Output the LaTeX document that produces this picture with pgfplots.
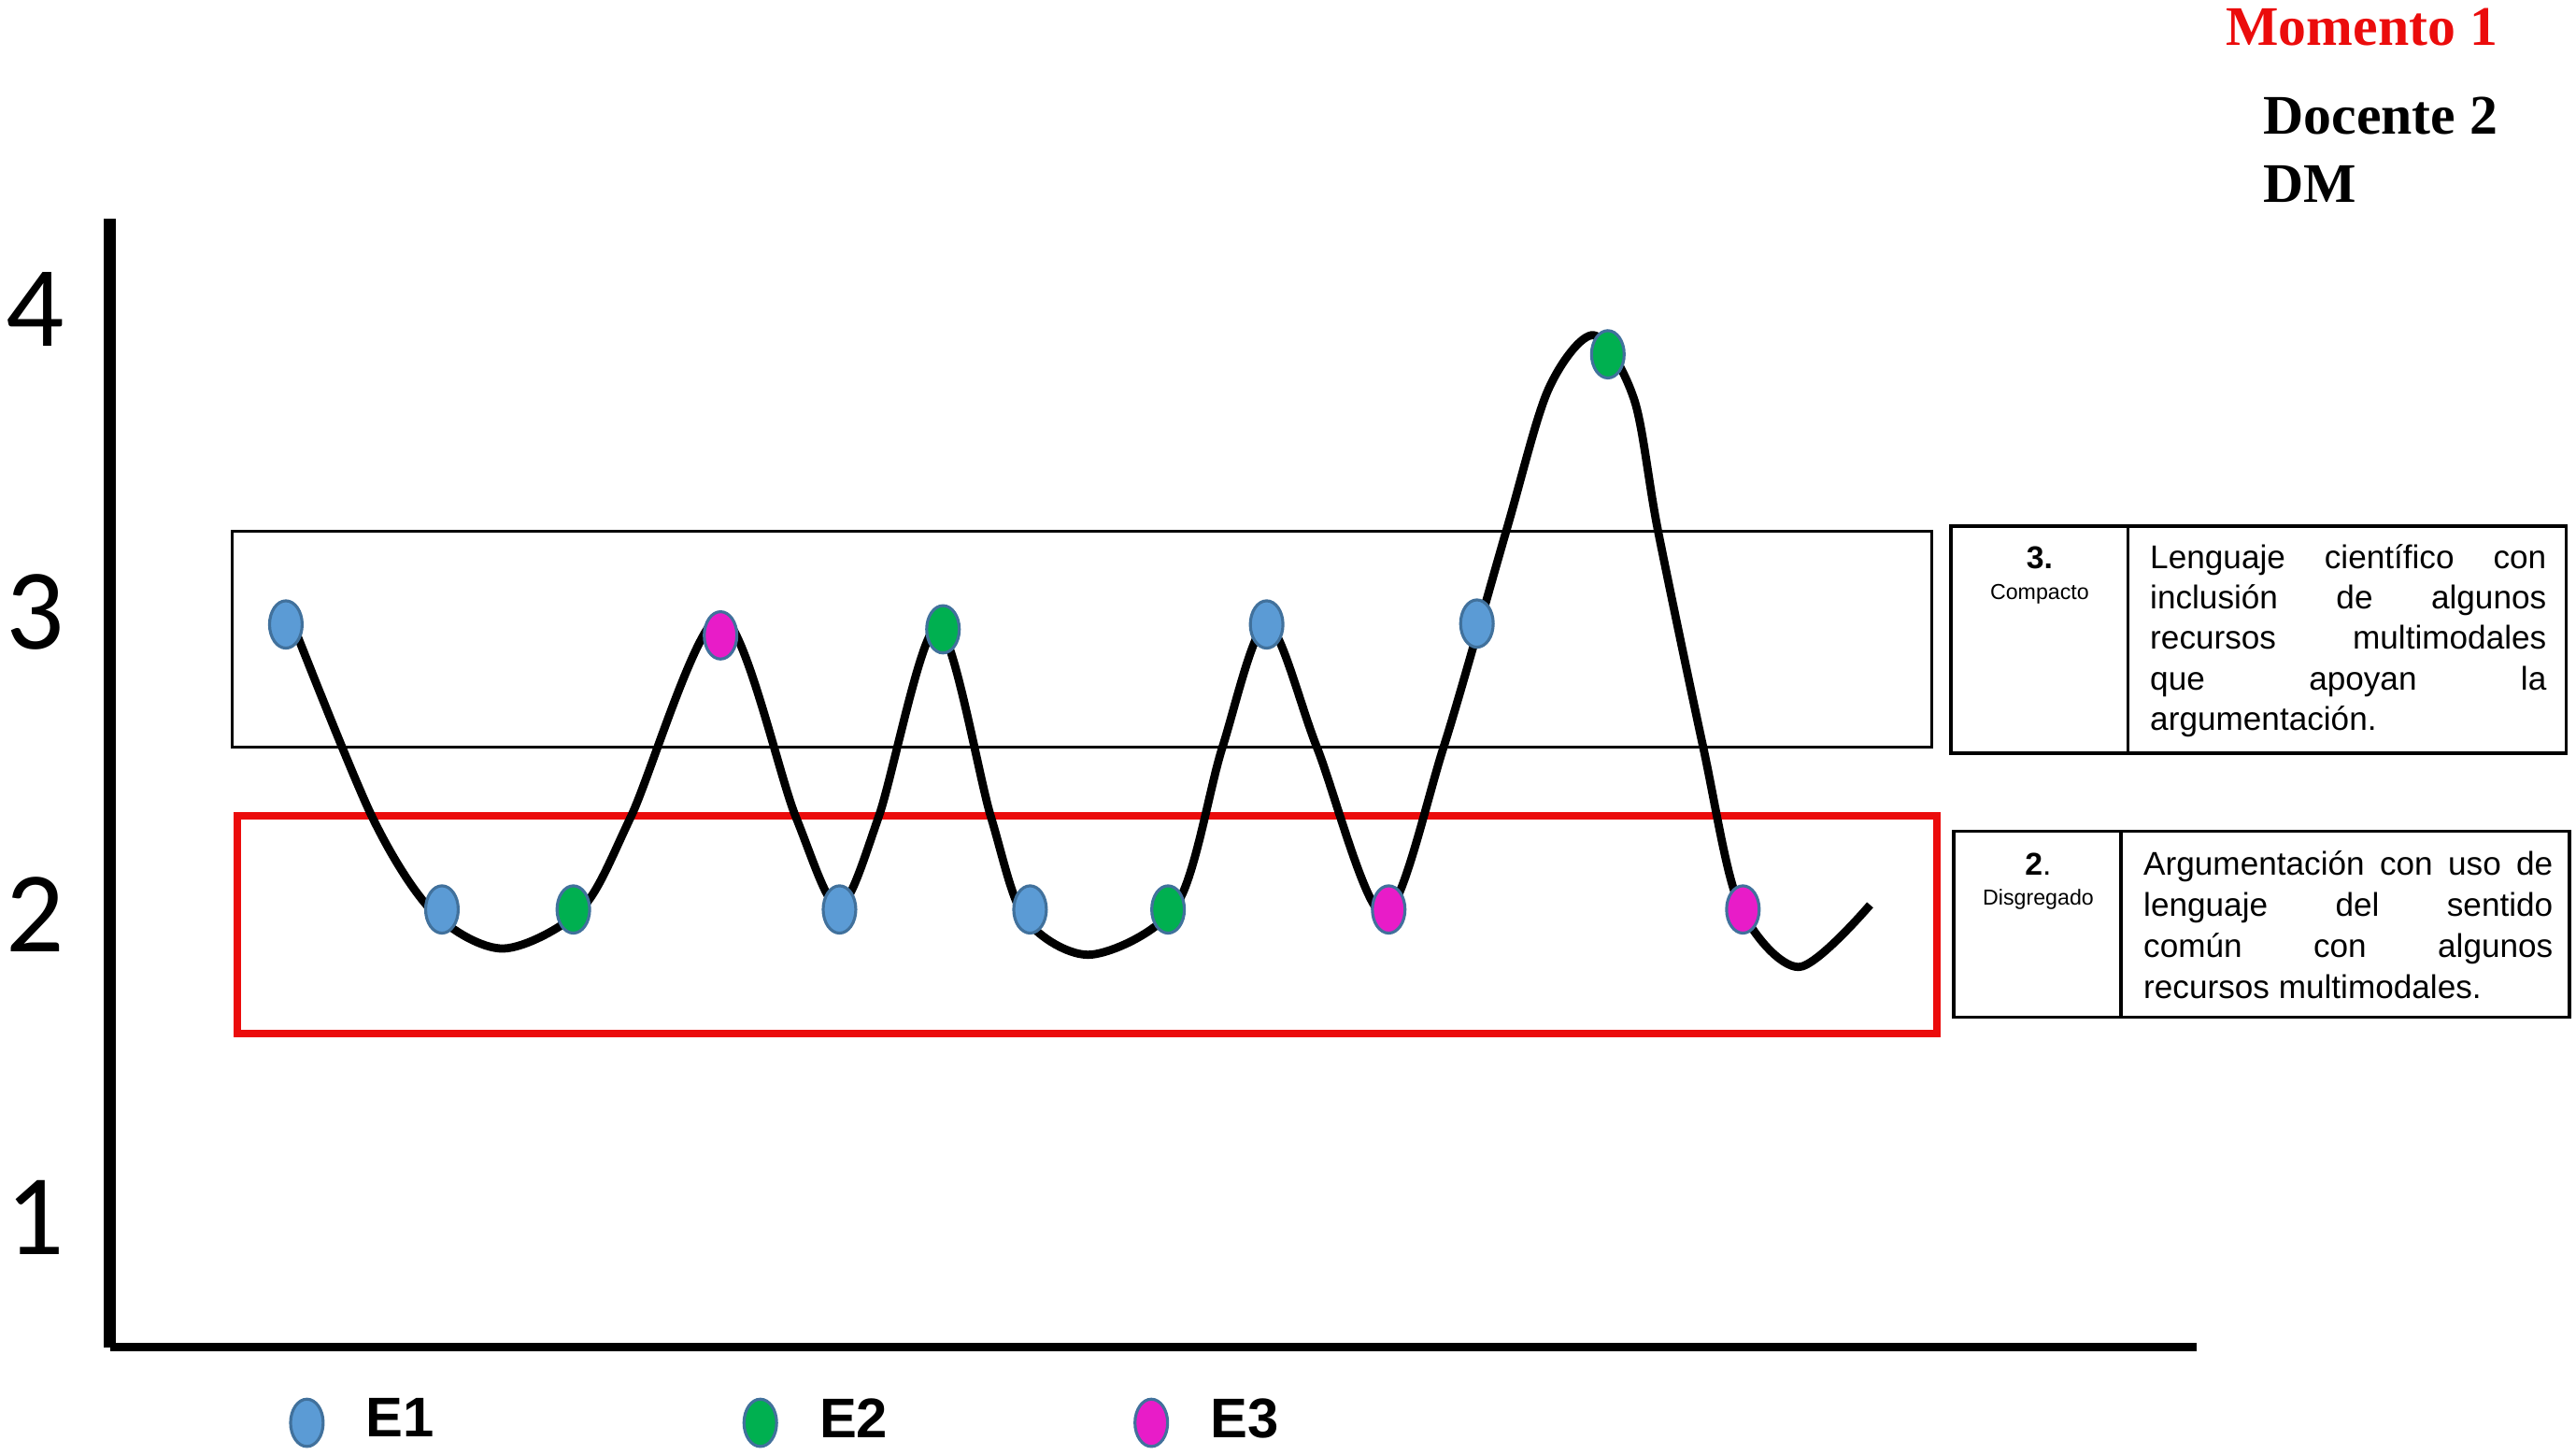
\documentclass[border=0pt]{standalone}
\usepackage{fontspec}
\setmainfont{Liberation Sans}
\newfontfamily\calfont{Carlito}
\newfontfamily\timesfont{Liberation Serif}
\usepackage{pgfplots}
\pgfplotsset{compat=1.18}

\definecolor{eone}{RGB}{91,155,213}
\definecolor{etwo}{RGB}{0,176,80}
\definecolor{ethree}{RGB}{232,28,200}
\definecolor{rim}{RGB}{65,113,156}
\definecolor{boxred}{RGB}{235,12,12}

\begin{document}
\begin{tikzpicture}
\begin{axis}[
    scale only axis,
    width=317.5pt, height=171.75pt,
    xmin=67, xmax=1337, ymin=0.5713, ymax=4.2984,
    axis x line=bottom, axis y line=left,
    axis line style={-},
    x axis line style={line width=1.3pt},
    y axis line style={line width=1.8pt},
    xtick=\empty,
    ytick={1,2,3,4}, yticklabels={1,2,3,4},
    major tick length=0pt,
    yticklabel style={font=\calfont\fontsize{17.5}{18}\selectfont, inner xsep=0pt, xshift=-6.8pt},
    clip=false,
    legend columns=3,
    legend cell align=left,
    legend style={draw=none, fill=none, at={(axis cs:176,0.322)}, anchor=west,
        inner sep=0pt, nodes={inner sep=0pt},
        font=\bfseries\fontsize{8.5}{10}\selectfont,
        /tikz/every odd column/.append style={column sep=6.5pt}},
    legend image code/.code={\path[draw=none,fill=none] (-2.5pt,-3.6pt) rectangle (2.5pt,3.6pt);
        \draw[#1] plot coordinates {(0pt,0pt)};},
    dot/.style={only marks, mark=*, mark size=3.6pt,
        mark options={xscale=0.69, draw=rim, line width=0.45pt, fill=#1}},
]
% bands
\draw[black, line width=0.45pt] (axis cs:141.5,3.2665) rectangle (axis cs:1176,2.5537);
\draw[boxred, line width=1.15pt] (axis cs:144.7,2.3253) rectangle (axis cs:1179,1.6076);

% students
\addplot[dot=eone] coordinates {(174,2.958) (269,2.017) (511,2.017) (627,2.017) (771,2.958) (899,2.961)};
\addlegendentry{\makebox[57.5pt][l]{E1}}
\addplot[dot=etwo] coordinates {(349,2.017) (574,2.942) (711,2.017) (978.7,3.850)};
\addlegendentry{\makebox[48pt][l]{E2}}
\addplot[dot=ethree] coordinates {(438.6,2.922) (845.3,2.017) (1060.9,2.017)};
\addlegendentry{E3}

% trajectory
\addplot[black, line width=1.25pt, smooth, forget plot] coordinates {
(175.7,2.994) (226.4,2.324) (264,2.006) (306.4,1.888) (353.7,2.017)
(384.1,2.324) (438.6,2.983) (484.3,2.324) (510.4,2.027) (534.9,2.324)
(570.5,2.950) (603.1,2.324) (624.2,1.986) (664.5,1.868) (716.7,2.037)
(744,2.551) (771.2,2.958) (801.7,2.551) (842.3,2.001) (878.6,2.551)
(916.9,3.268) (942.4,3.733) (970,3.913) (994.7,3.701) (1009.2,3.268)
(1036.8,2.551) (1058.6,2.033) (1094.8,1.827) (1138.3,2.032)};

% header
\node[anchor=base east, inner sep=0pt, text=boxred, font=\timesfont\bfseries\fontsize{8.5}{10}\selectfont]
    at (axis cs:1521,4.8707) {Momento 1};
\node[anchor=base west, inner sep=0pt, font=\timesfont\bfseries\fontsize{8.5}{10}\selectfont]
    at (axis cs:1377,4.5778) {Docente 2};
\node[anchor=base west, inner sep=0pt, font=\timesfont\bfseries\fontsize{8.5}{10}\selectfont]
    at (axis cs:1377,4.3515) {DM};

% level 3 box
\draw[line width=0.5pt] (axis cs:1187.6,3.2823) rectangle (axis cs:1562,2.5331);
\draw[line width=0.5pt] (axis cs:1295.4,3.2823) -- (axis cs:1295.4,2.5331);
\node[anchor=base, inner sep=0pt, font=\bfseries\fontsize{4.8}{5}\selectfont] at (axis cs:1241.5,3.1428) {3.};
\node[anchor=base, inner sep=0pt, font=\fontsize{3.3}{4}\selectfont] at (axis cs:1241.5,3.0398) {Compacto};
\begin{scope}[every node/.style={anchor=base west, inner sep=0pt, font=\fontsize{5}{6}\selectfont}]
\node at (axis cs:1308,3.1428) {\hbox to 60.3pt{Lenguaje\hfill científico\hfill con}};
\node at (axis cs:1308,3.0094) {\hbox to 60.3pt{inclusión\hfill de\hfill algunos}};
\node at (axis cs:1308,2.8759) {\hbox to 60.3pt{recursos\hfill multimodales}};
\node at (axis cs:1308,2.7425) {\hbox to 60.3pt{que\hfill apoyan\hfill la}};
\node at (axis cs:1308,2.6090) {argumentación.};
\end{scope}

% level 2 box
\draw[line width=0.5pt] (axis cs:1189.2,2.2759) rectangle (axis cs:1564,1.6618);
\draw[line width=0.5pt] (axis cs:1291,2.2759) -- (axis cs:1291,1.6618);
\node[anchor=base, inner sep=0pt, font=\fontsize{4.8}{5}\selectfont] at (axis cs:1240.7,2.1300) {\textbf{2}.};
\node[anchor=base, inner sep=0pt, font=\fontsize{3.3}{4}\selectfont] at (axis cs:1240.7,2.0323) {Disgregado};
\begin{scope}[every node/.style={anchor=base west, inner sep=0pt, font=\fontsize{5}{6}\selectfont}]
\node at (axis cs:1304,2.1300) {\hbox to 62.3pt{Argumentación\hfill con\hfill uso\hfill de}};
\node at (axis cs:1304,1.9944) {\hbox to 62.3pt{lenguaje\hfill del\hfill sentido}};
\node at (axis cs:1304,1.8587) {\hbox to 62.3pt{común\hfill con\hfill algunos}};
\node at (axis cs:1304,1.7231) {recursos multimodales.};
\end{scope}

\coordinate (bbSW) at (axis cs:0,0.2187);
\coordinate (bbNE) at (axis cs:1568,5.0199);
\end{axis}
\pgfresetboundingbox
\useasboundingbox (bbSW) rectangle (bbNE);
\end{tikzpicture}
\end{document}
